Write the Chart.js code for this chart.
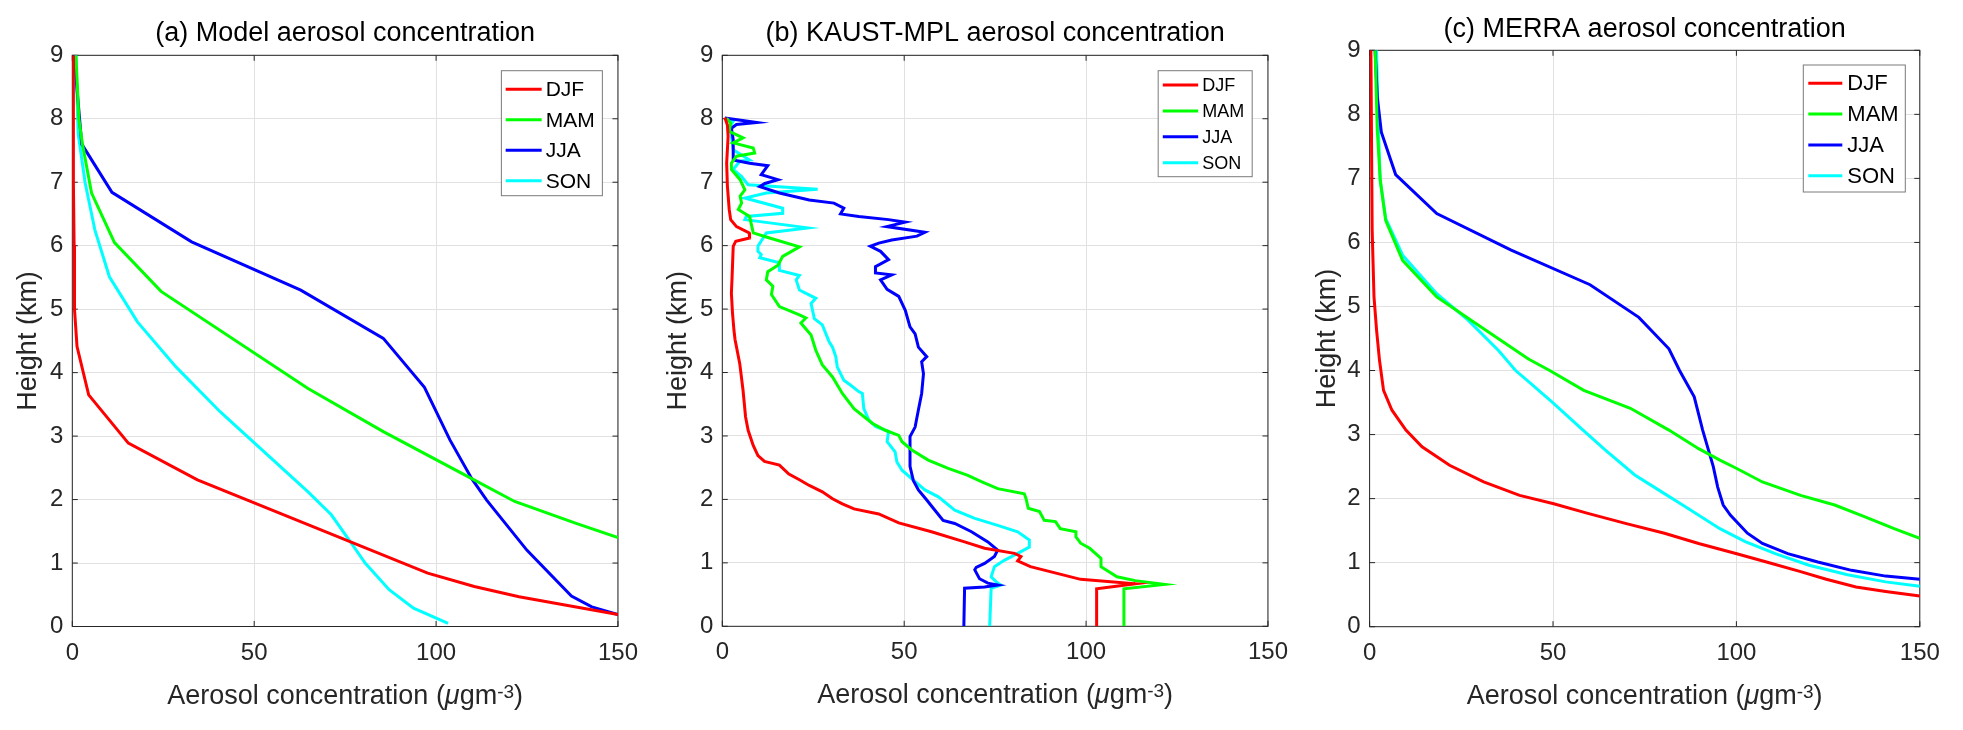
<!DOCTYPE html>
<html>
<head>
<meta charset="utf-8">
<script src="https://cdn.jsdelivr.net/npm/chart.js@4.4.1/dist/chart.umd.min.js"></script>
<style>
html, body { margin: 0; padding: 0; background: #fff; }
#page { position: relative; width: 1963px; height: 730px; overflow: hidden; background: #fff; }
.panel { position: absolute; top: 0; height: 730px; }
</style>
</head>
<body>
<div id="page">
  <div class="panel" style="left:0px;width:650px"><canvas id="pa"></canvas></div>
  <div class="panel" style="left:650px;width:650px"><canvas id="pb"></canvas></div>
  <div class="panel" style="left:1300px;width:663px"><canvas id="pc"></canvas></div>
</div>
<script>
var seasons = ['DJF', 'MAM', 'JJA', 'SON'];
var seasonColors = ['#ff0000', '#00ff00', '#0000ff', '#00ffff'];
var xTicks = [0, 50, 100, 150];
var yTicks = [0, 1, 2, 3, 4, 5, 6, 7, 8, 9];
var panelTitles = ['(a) Model aerosol concentration', '(b) KAUST-MPL aerosol concentration', '(c) MERRA aerosol concentration'];
var yLabel = 'Height (km)';
// x label is built from pieces because of the italic mu and the superscript
var xLabelParts = ['Aerosol concentration (', '\u03bc', 'gm', '-3', ')'];

// (a) model
var aDJF_conc = [0.2, 0.3, 0.5, 0.6, 1.3, 4.5, 15.4, 34.4, 97.7, 110.5, 122.8, 150];
var aDJF_h    = [9.0, 7.0, 6.0, 5.0, 4.41, 3.65, 2.89, 2.31, 0.84, 0.63, 0.47, 0.19];
var aMAM_conc = [1.0, 1.8, 2.8, 5.3, 11.6, 24.4, 64.8, 85.5, 109.8, 121.6, 138.3, 150];
var aMAM_h    = [9.0, 8.0, 7.6, 6.83, 6.05, 5.28, 3.75, 3.07, 2.33, 1.97, 1.63, 1.40];
var aJJA_conc = [0.5, 2.6, 10.9, 32.8, 62.8, 85.5, 96.8, 103.8, 109.8, 113.9, 125.0, 137.2, 142.8, 150];
var aJJA_h    = [9.0, 7.6, 6.84, 6.06, 5.30, 4.54, 3.77, 2.94, 2.33, 1.99, 1.20, 0.48, 0.31, 0.19];
var aSON_conc = [1.0, 1.6, 3.5, 6.2, 10.2, 17.9, 28.5, 40.7, 64.8, 71.2, 76.6, 80.5, 87.1, 93.8, 103.3];
var aSON_h    = [9.0, 7.77, 7.0, 6.25, 5.51, 4.80, 4.09, 3.38, 2.12, 1.76, 1.32, 1.0, 0.58, 0.29, 0.05];

// (b) KAUST-MPL
var bDJF_conc = [0.7, 1.4, 1.6, 1.2, 1.4, 1.9, 2.3, 3.9, 7.4, 7.5, 3.7, 3.0, 2.7, 2.5, 2.8, 3.2, 3.5, 4.8, 5.7, 6.4, 7.1, 8.5, 9.8, 11.6, 15.7, 18.3, 21.2, 23.9, 27.5, 30.3, 33.0, 36.2, 43.0, 48.5, 57.5, 66.6, 72.1, 80.3, 82.1, 81.2, 84.7, 98.5, 113.5, 102.9, 102.9];
var bDJF_h    = [8.02, 7.9, 7.72, 7.3, 6.94, 6.57, 6.41, 6.30, 6.2, 6.12, 6.07, 5.99, 5.52, 5.25, 4.94, 4.67, 4.52, 4.14, 3.72, 3.30, 3.09, 2.85, 2.69, 2.60, 2.54, 2.40, 2.31, 2.22, 2.12, 2.01, 1.93, 1.85, 1.77, 1.63, 1.49, 1.33, 1.23, 1.15, 1.10, 1.03, 0.94, 0.74, 0.67, 0.59, 0.0];
var bMAM_conc = [1.2, 2.3, 1.9, 5.7, 3.0, 8.5, 8.9, 3.9, 2.5, 2.5, 4.9, 6.2, 4.9, 5.3, 4.4, 7.5, 8.0, 8.5, 13.0, 21.2, 16.6, 15.3, 12.5, 12.1, 13.9, 13.5, 15.7, 21.2, 23.0, 21.6, 24.4, 25.7, 27.5, 30.3, 33.0, 36.2, 41.2, 44.8, 48.5, 49.4, 52.1, 56.6, 62.1, 67.5, 71.2, 75.7, 83.0, 83.5, 84.1, 87.2, 88.5, 91.6, 92.9, 97.2, 97.2, 98.5, 101.0, 104.1, 104.1, 108.5, 113.5, 121.6, 110.4, 110.4];
var bMAM_h    = [8.01, 7.93, 7.8, 7.70, 7.62, 7.54, 7.46, 7.41, 7.30, 7.2, 7.04, 6.88, 6.78, 6.67, 6.57, 6.46, 6.33, 6.20, 6.12, 5.98, 5.83, 5.69, 5.59, 5.46, 5.36, 5.23, 5.04, 4.91, 4.86, 4.78, 4.59, 4.35, 4.12, 3.93, 3.67, 3.43, 3.20, 3.09, 3.01, 2.91, 2.78, 2.62, 2.49, 2.38, 2.28, 2.17, 2.09, 2.01, 1.86, 1.81, 1.67, 1.65, 1.54, 1.49, 1.41, 1.31, 1.23, 1.07, 0.94, 0.78, 0.72, 0.66, 0.59, 0.0];
var bJJA_conc = [0.7, 9.4, 3.9, 2.5, 3.0, 3.0, 7.5, 12.5, 10.7, 15.3, 11.7, 10.3, 15.7, 23.9, 30.7, 33.4, 32.5, 37.5, 45.7, 50.3, 45.2, 55.7, 53.5, 46.6, 43.0, 40.7, 43.5, 45.7, 42.1, 42.1, 46.6, 43.5, 45.3, 48.5, 50.3, 51.6, 53.0, 53.9, 56.2, 54.8, 55.3, 54.8, 53.9, 53.0, 51.6, 51.6, 51.6, 52.5, 53.9, 56.2, 58.0, 60.7, 63.9, 68.5, 73.0, 75.7, 74.8, 72.1, 69.8, 69.4, 70.7, 73.0, 75.7, 72.1, 66.6, 66.4];
var bJJA_h    = [8.01, 7.94, 7.91, 7.85, 7.67, 7.35, 7.30, 7.26, 7.12, 7.04, 6.98, 6.93, 6.83, 6.72, 6.67, 6.59, 6.50, 6.46, 6.41, 6.37, 6.30, 6.21, 6.15, 6.09, 6.04, 5.99, 5.91, 5.78, 5.67, 5.57, 5.54, 5.46, 5.31, 5.20, 4.98, 4.72, 4.61, 4.40, 4.25, 4.17, 3.98, 3.67, 3.41, 3.14, 2.99, 2.73, 2.52, 2.30, 2.15, 1.99, 1.86, 1.67, 1.62, 1.49, 1.33, 1.20, 1.10, 0.99, 0.93, 0.89, 0.75, 0.68, 0.65, 0.62, 0.60, 0.0];
var bSON_conc = [0.7, 3.0, 2.1, 2.5, 3.0, 7.5, 4.8, 3.0, 5.3, 7.1, 26.2, 12.1, 6.2, 16.6, 16.6, 6.6, 6.2, 23.5, 12.1, 9.8, 9.8, 10.7, 10.3, 15.7, 15.7, 21.2, 20.3, 21.2, 25.7, 24.4, 25.3, 27.5, 29.4, 30.3, 31.2, 31.6, 33.4, 35.3, 37.5, 38.5, 38.9, 40.3, 42.1, 45.7, 45.3, 47.5, 48.0, 49.4, 53.0, 55.7, 59.4, 63.9, 69.4, 75.7, 81.2, 84.4, 84.4, 81.2, 77.5, 74.8, 73.9, 75.3, 76.6, 73.9, 73.5];
var bSON_h    = [8.01, 7.96, 7.88, 7.72, 7.51, 7.35, 7.33, 7.20, 7.09, 6.96, 6.89, 6.83, 6.75, 6.59, 6.51, 6.46, 6.41, 6.28, 6.20, 5.99, 5.91, 5.86, 5.81, 5.73, 5.61, 5.53, 5.46, 5.30, 5.17, 5.09, 4.85, 4.75, 4.48, 4.40, 4.25, 4.09, 3.88, 3.80, 3.70, 3.67, 3.43, 3.25, 3.15, 3.07, 2.91, 2.75, 2.59, 2.46, 2.28, 2.15, 2.04, 1.83, 1.70, 1.59, 1.49, 1.36, 1.25, 1.15, 1.04, 0.94, 0.78, 0.70, 0.65, 0.60, 0.0];

// (c) MERRA
var cDJF_conc = [0.35, 0.7, 1.2, 1.9, 2.7, 3.8, 6.1, 9.9, 14.3, 21.8, 31.1, 40.9, 50.2, 59.5, 70.0, 80.4, 89.7, 100.1, 108.2, 117.5, 124.5, 132.6, 140.7, 150];
var cDJF_h    = [9.0, 6.19, 5.15, 4.63, 4.16, 3.69, 3.38, 3.07, 2.81, 2.52, 2.26, 2.05, 1.92, 1.77, 1.61, 1.46, 1.30, 1.14, 1.01, 0.86, 0.74, 0.62, 0.55, 0.48];
var cMAM_conc = [1.5, 2.1, 2.9, 4.4, 9.0, 18.3, 31.7, 43.3, 49.1, 58.4, 71.1, 81.6, 89.7, 95.5, 100.1, 107.1, 117.5, 126.8, 134.9, 143.0, 150];
var cMAM_h    = [9.0, 7.75, 6.97, 6.34, 5.72, 5.15, 4.63, 4.18, 4.0, 3.69, 3.41, 3.07, 2.78, 2.60, 2.47, 2.26, 2.05, 1.90, 1.72, 1.53, 1.38];
var cJJA_conc = [1.5, 2.1, 3.2, 7.1, 18.3, 38.6, 60.1, 73.4, 81.6, 84.5, 88.5, 90.8, 93.7, 94.9, 96.4, 98.4, 103.0, 107.1, 114.0, 122.2, 131.4, 140.7, 150];
var cJJA_h    = [9.0, 8.27, 7.72, 7.06, 6.45, 5.88, 5.34, 4.83, 4.34, 4.0, 3.59, 3.07, 2.50, 2.18, 1.90, 1.74, 1.46, 1.30, 1.14, 1.01, 0.88, 0.79, 0.74];
var cSON_conc = [1.9, 2.4, 2.9, 4.4, 9.0, 18.3, 27.0, 35.2, 39.8, 43.9, 49.7, 57.2, 64.2, 72.3, 78.1, 86.2, 95.5, 102.4, 110.6, 119.8, 130.3, 140.7, 150];
var cSON_h    = [9.0, 7.75, 6.97, 6.37, 5.80, 5.20, 4.78, 4.31, 4.0, 3.80, 3.51, 3.12, 2.76, 2.37, 2.16, 1.87, 1.53, 1.33, 1.14, 0.96, 0.81, 0.70, 0.63];

var fam = "'Liberation Sans', Arial, Helvetica, sans-serif";
Chart.defaults.font.family = fam;
var gridColor = '#e1e1e1';
var axisColor = '#262626';
var titleSize = 27;
var tickSize = 24;

function toPoints(conc, h) {
  var pts = [];
  for (var i = 0; i < conc.length; i++) {
    pts.push({x: conc[i], y: h[i]});
  }
  return pts;
}

// box round the axes with short ticks pointing in, like matlab
var framePlugin = {
  id: 'frame',
  beforeDatasetsDraw: function(chart) {
    var a = chart.chartArea, ctx = chart.ctx;
    var xs = chart.scales.x, ys = chart.scales.y;
    var tl = 5.5;
    ctx.save();
    ctx.strokeStyle = axisColor;
    ctx.lineWidth = 1;
    ctx.strokeRect(a.left, a.top, a.right - a.left, a.bottom - a.top);
    ctx.beginPath();
    xTicks.forEach(function(v) {
      var px = xs.getPixelForValue(v);
      ctx.moveTo(px, a.bottom); ctx.lineTo(px, a.bottom - tl);
      ctx.moveTo(px, a.top); ctx.lineTo(px, a.top + tl);
    });
    yTicks.forEach(function(v) {
      var py = ys.getPixelForValue(v);
      ctx.moveTo(a.left, py); ctx.lineTo(a.left + tl, py);
      ctx.moveTo(a.right, py); ctx.lineTo(a.right - tl, py);
    });
    ctx.stroke();
    ctx.restore();
  }
};

// legend box inside the upper right corner of the axes
var boxLegendPlugin = {
  id: 'boxLegend',
  afterDraw: function(chart, args, o) {
    var a = chart.chartArea, ctx = chart.ctx;
    var x0 = a.right - o.insetRight - o.width;
    var y0 = a.top + o.insetTop;
    ctx.save();
    ctx.fillStyle = '#fff';
    ctx.fillRect(x0, y0, o.width, o.height);
    ctx.strokeStyle = '#7a7a7a';
    ctx.lineWidth = 1;
    ctx.strokeRect(x0, y0, o.width, o.height);
    chart.data.datasets.forEach(function(ds, i) {
      var y = y0 + o.first + i * o.gap;
      ctx.strokeStyle = ds.borderColor;
      ctx.lineWidth = 3;
      ctx.beginPath();
      ctx.moveTo(x0 + o.lineFrom, y);
      ctx.lineTo(x0 + o.lineTo, y);
      ctx.stroke();
      ctx.fillStyle = '#000';
      ctx.font = o.fontSize + 'px ' + fam;
      ctx.textAlign = 'left';
      ctx.textBaseline = 'middle';
      ctx.fillText(ds.label, x0 + o.textX, y + 1);
    });
    ctx.restore();
  }
};

// x axis title with italic mu and superscript -3
var xTitlePlugin = {
  id: 'xTitle',
  afterDraw: function(chart, args, o) {
    var a = chart.chartArea, ctx = chart.ctx;
    var fonts = [o.size + 'px ' + fam, 'italic ' + o.size + 'px ' + fam, o.size + 'px ' + fam, o.supSize + 'px ' + fam, o.size + 'px ' + fam];
    var rise = [0, 0, 0, o.supRise, 0];
    var total = 0, widths = [];
    ctx.save();
    for (var i = 0; i < xLabelParts.length; i++) {
      ctx.font = fonts[i];
      widths.push(ctx.measureText(xLabelParts[i]).width);
      total += widths[i];
    }
    var x = (a.left + a.right) / 2 - total / 2;
    var y = a.bottom + o.baseline;
    ctx.fillStyle = axisColor;
    ctx.textAlign = 'left';
    ctx.textBaseline = 'alphabetic';
    for (var j = 0; j < xLabelParts.length; j++) {
      ctx.font = fonts[j];
      ctx.fillText(xLabelParts[j], x, y - rise[j]);
      x += widths[j];
    }
    ctx.restore();
  }
};

function makePanel(canvasId, title, series, g) {
  var datasets = [];
  for (var i = 0; i < series.length; i++) {
    datasets.push({
      label: seasons[i],
      data: toPoints(series[i][0], series[i][1]),
      showLine: true,
      borderColor: seasonColors[i],
      backgroundColor: seasonColors[i],
      borderWidth: 3,
      pointRadius: 0,
      tension: 0
    });
  }
  return new Chart(document.getElementById(canvasId), {
    type: 'scatter',
    data: {datasets: datasets},
    options: {
      responsive: true,
      maintainAspectRatio: false,
      animation: false,
      events: [],
      layout: {padding: {left: 0, top: 0, bottom: 0, right: g.padRight}},
      plugins: {
        legend: {display: false},
        tooltip: {enabled: false},
        title: {
          display: true, text: title, fullSize: false, color: '#000',
          font: {size: titleSize, weight: 'normal'},
          padding: {top: g.titleTop, bottom: g.top - g.titleTop - titleSize * 1.2}
        },
        boxLegend: g.legend,
        xTitle: {size: 27, supSize: 19, supRise: 6, baseline: 77}
      },
      scales: {
        x: {
          type: 'linear', min: 0, max: 150,
          afterBuildTicks: function(s) { s.ticks = xTicks.map(function(v) { return {value: v}; }); },
          afterFit: function(s) { s.height = 730 - g.bottom; },
          grid: {color: gridColor, drawTicks: false},
          border: {display: false},
          ticks: {padding: 12, color: axisColor, font: {size: tickSize}, maxRotation: 0}
        },
        y: {
          type: 'linear', min: 0, max: 9,
          afterBuildTicks: function(s) { s.ticks = yTicks.map(function(v) { return {value: v}; }); },
          afterFit: function(s) { s.width = g.yWidth; },
          grid: {color: gridColor, drawTicks: false},
          border: {display: false},
          ticks: {padding: 9, color: axisColor, font: {size: tickSize}},
          title: {display: true, text: yLabel, color: axisColor, font: {size: 27}, padding: {top: g.yTitlePad, bottom: 0}}
        }
      }
    },
    plugins: [framePlugin, boxLegendPlugin, xTitlePlugin]
  });
}

makePanel('pa', panelTitles[0],
  [[aDJF_conc, aDJF_h], [aMAM_conc, aMAM_h], [aJJA_conc, aJJA_h], [aSON_conc, aSON_h]],
  {yWidth: 72.3, padRight: 27.7, top: 55.3, bottom: 626.5, titleTop: 17.7, yTitlePad: 12.8,
   legend: {insetRight: 15.6, insetTop: 15.4, width: 101, height: 125, first: 18.6, gap: 30.5, fontSize: 21, lineFrom: 4.3, lineTo: 40.3, textX: 44.3}});

makePanel('pb', panelTitles[1],
  [[bDJF_conc, bDJF_h], [bMAM_conc, bMAM_h], [bJJA_conc, bJJA_h], [bSON_conc, bSON_h]],
  {yWidth: 72.3, padRight: 27.5, top: 55.3, bottom: 626.3, titleTop: 17.7, yTitlePad: 12.8,
   legend: {insetRight: 15.8, insetTop: 15.4, width: 94, height: 106, first: 14.3, gap: 25.9, fontSize: 18, lineFrom: 4.6, lineTo: 40, textX: 44}});

makePanel('pc', panelTitles[2],
  [[cDJF_conc, cDJF_h], [cMAM_conc, cMAM_h], [cJJA_conc, cJJA_h], [cSON_conc, cSON_h]],
  {yWidth: 69.6, padRight: 43.2, top: 50.3, bottom: 626.7, titleTop: 12.9, yTitlePad: 11.4,
   legend: {insetRight: 14.5, insetTop: 14.7, width: 102, height: 127, first: 18.3, gap: 30.8, fontSize: 22, lineFrom: 5, lineTo: 39, textX: 44}});
</script>
</body>
</html>
